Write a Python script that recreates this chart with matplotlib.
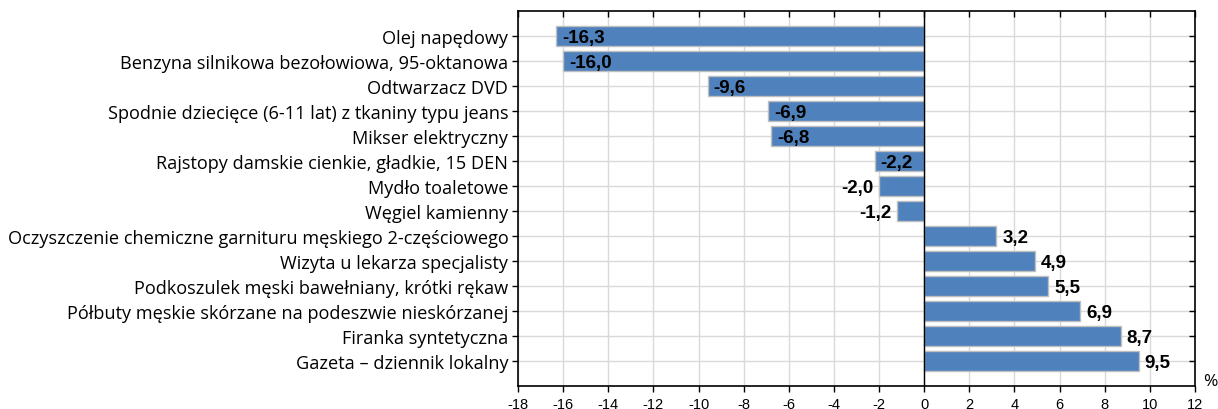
import matplotlib
matplotlib.use("Agg")
import matplotlib.pyplot as plt
import numpy as np

categories = [
    "Olej napędowy",
    "Benzyna silnikowa bezołowiowa, 95-oktanowa",
    "Odtwarzacz DVD",
    "Spodnie dziecięce (6-11 lat) z tkaniny typu jeans",
    "Mikser elektryczny",
    "Rajstopy damskie cienkie, gładkie, 15 DEN",
    "Mydło toaletowe",
    "Węgiel kamienny",
    "Oczyszczenie chemiczne garnituru męskiego 2-częściowego",
    "Wizyta u lekarza specjalisty",
    "Podkoszulek męski bawełniany, krótki rękaw",
    "Półbuty męskie skórzane na podeszwie nieskórzanej",
    "Firanka syntetyczna",
    "Gazeta – dziennik lokalny",
]
values = [-16.3, -16.0, -9.6, -6.9, -6.8, -2.2, -2.0, -1.2, 3.2, 4.9, 5.5, 6.9, 8.7, 9.5]
x_ticks = list(range(-18, 13, 2))
unit_label = "%"

fig = plt.figure(figsize=(12.18, 4.10), dpi=100)
ax = fig.add_axes([0.4253, 0.0561, 0.9811 - 0.4253, 0.9707 - 0.0561])

y = np.arange(len(categories))
ax.barh(y, values, height=0.78, color="#4F81BD", edgecolor="#BFBFBF",
        linewidth=1.0, zorder=3)

ax.set_xlim(-18, 12)
ax.set_ylim(len(categories), -1)
ax.set_yticks(y)
ax.set_yticklabels(categories, fontfamily="Open Sans", fontsize=13.1)
ax.set_xticks(x_ticks)
ax.set_xticklabels([str(t) for t in x_ticks], fontfamily="Liberation Sans", fontsize=10.5)

ax.grid(True, color="#D9D9D9", linewidth=1.0, zorder=0)
ax.set_axisbelow(True)
ax.axvline(0, color="black", linewidth=1.0, zorder=4)

for s in ax.spines.values():
    s.set_color("black")
    s.set_linewidth(1.2)
    s.set_zorder(5)

ax.tick_params(axis="y", which="major", direction="out", length=4, width=1, pad=3,
               right=True, labelright=False)
ax.tick_params(axis="x", which="major", direction="out", length=4, width=1, pad=4,
               top=True, labeltop=False)
for t in ax.xaxis.get_major_ticks():
    t.tick2line.set_marker(matplotlib.lines.TICKDOWN)
for t in ax.yaxis.get_major_ticks():
    t.tick2line.set_marker(matplotlib.lines.TICKLEFT)

pad = 6 / 22.56  # approx data units for 6 px
lab_kw = dict(fontfamily="Liberation Sans", fontweight="bold", fontsize=13.5,
              color="black", zorder=6, va="center")
for yi, v in zip(y, values):
    label = f"{v:.1f}".replace(".", ",")
    if v < 0:
        if abs(v) >= 2.1:
            ax.text(v + pad, yi + 0.06, label, ha="left", **lab_kw)
        else:
            ax.text(v - pad, yi + 0.06, label, ha="right", **lab_kw)
    else:
        ax.text(v + pad, yi + 0.06, label, ha="left", **lab_kw)

fig.text(1210 / 1218, 1 - 382 / 410, unit_label, ha="center", va="center",
         fontfamily="Open Sans", fontsize=12.5)

fig.savefig("out.png", dpi=100)
